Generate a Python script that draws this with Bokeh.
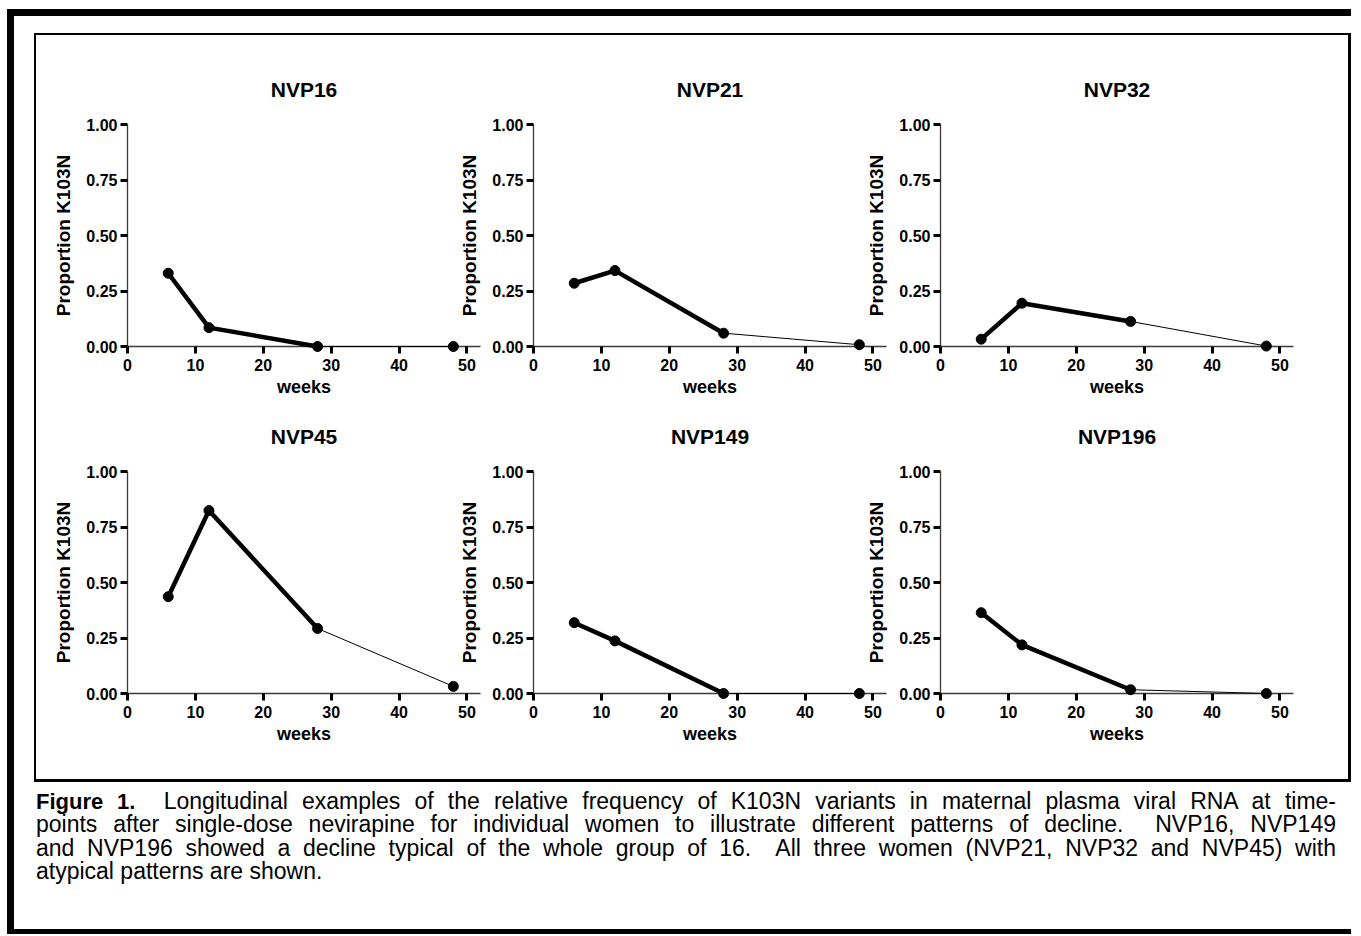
from bokeh.plotting import figure
from bokeh.models import Range1d, FixedTicker, NumeralTickFormatter, Div, Spacer, Column, Row
from bokeh.embed import file_html
from bokeh.resources import INLINE

# ---------------- data ----------------
weeks = [6, 12, 28, 48]
panel_names = ["NVP16", "NVP21", "NVP32", "NVP45", "NVP149", "NVP196"]
nvp16 = [0.330, 0.085, 0.000, 0.000]
nvp21 = [0.285, 0.342, 0.060, 0.008]
nvp32 = [0.033, 0.195, 0.113, 0.002]
nvp45 = [0.436, 0.824, 0.293, 0.032]
nvp149 = [0.319, 0.237, 0.000, 0.000]
nvp196 = [0.364, 0.219, 0.017, 0.000]
panel_values = [nvp16, nvp21, nvp32, nvp45, nvp149, nvp196]
x_ticks = [0, 10, 20, 30, 40, 50]
y_ticks = [0.0, 0.25, 0.5, 0.75, 1.0]
x_label = "weeks"
y_label = "Proportion K103N"
caption_bold = "Figure 1."
caption_lines = [
    "Longitudinal examples of the relative frequency of K103N variants in maternal plasma viral RNA at time-",
    "points after single-dose nevirapine for individual women to illustrate different patterns of decline.&nbsp; NVP16, NVP149",
    "and NVP196 showed a decline typical of the whole group of 16.&nbsp; All three women (NVP21, NVP32 and NVP45) with",
    "atypical patterns are shown.",
]

FONT = "Liberation Sans"


def make_panel(name, vals):
    p = figure(width=440, height=357, x_range=Range1d(0, 52), y_range=Range1d(0, 1),
               output_backend="svg", toolbar_location=None, title=name,
               min_border_left=77, min_border_right=10, min_border_top=76, min_border_bottom=59,
               border_fill_alpha=0, background_fill_alpha=0, outline_line_color=None)
    p.title.align = "center"
    p.title.text_font = FONT
    p.title.text_font_size = "21px"
    p.title.text_font_style = "bold"
    p.title.text_color = "black"
    p.title.standoff = 47
    p.xgrid.visible = False
    p.ygrid.visible = False
    p.xaxis.ticker = FixedTicker(ticks=x_ticks)
    p.yaxis.ticker = FixedTicker(ticks=y_ticks)
    p.yaxis.formatter = NumeralTickFormatter(format="0.00")
    p.xaxis.axis_label = x_label
    p.yaxis.axis_label = y_label
    for ax in (p.xaxis[0], p.yaxis[0]):
        ax.axis_line_color = "#3a3a3a"
        ax.axis_line_width = 1.3
        ax.major_tick_line_color = "black"
        ax.major_tick_line_width = 3
        ax.major_tick_out = 7
        ax.major_tick_in = 0
        ax.minor_tick_line_color = None
        ax.major_label_text_font = FONT
        ax.major_label_text_font_style = "bold"
        ax.major_label_text_font_size = "16px"
        ax.major_label_text_color = "black"
        ax.axis_label_text_font = FONT
        ax.axis_label_text_font_style = "bold"
        ax.axis_label_text_color = "black"
    p.xaxis.major_label_standoff = 5
    p.yaxis.major_label_standoff = 3
    p.xaxis.axis_label_text_font_size = "18px"
    p.yaxis.axis_label_text_font_size = "19px"
    p.xaxis.axis_label_standoff = 3
    p.yaxis.axis_label_standoff = 9

    p.line(weeks[:3], vals[:3], line_width=4.5, color="black", level="overlay")
    p.line(weeks[2:], vals[2:], line_width=1, color="black", level="overlay")
    p.scatter(weeks, vals, size=10, color="black", level="overlay")
    return p


figs = [make_panel(n, v) for n, v in zip(panel_names, panel_values)]
left_margins = [14, -34, -33]
for i, f in enumerate(figs):
    f.margin = (0, 0, 0, left_margins[i % 3])

row1 = Row(children=figs[:3] + [Spacer(width=45, height=1)])
row2 = Row(children=figs[3:] + [Spacer(width=45, height=1)], margin=(-10, 0, 0, 0))

inner = Column(children=[Spacer(width=1, height=13), row1, row2,
                         Spacer(width=1, height=27)],
               margin=(17, 0, 0, 20),
               styles={"border-style": "solid", "border-color": "black",
                       "border-width": "2px 3px 3px 2px", "background-color": "white"})

line_style = "text-align:justify; text-align-last:justify;"
html_lines = []
for i, t in enumerate(caption_lines):
    if i == 0:
        t = '<b style="font-size:22px;">' + caption_bold + "</b>&nbsp; " + t
    st = line_style if i < len(caption_lines) - 1 else "text-align:left;"
    html_lines.append('<div style="%s">%s</div>' % (st, t))
caption_html = ('<div style="font-family:\'%s\'; font-size:23px; line-height:23.3px; color:black; width:1300px;">%s</div>'
                % (FONT, "".join(html_lines)))
caption = Div(text=caption_html, width=1300, height=139, margin=(8, 0, 0, 22))

root = Column(children=[inner, caption], margin=(9, 0, 0, 7),
              styles={"border-left": "7px solid black", "border-top": "7px solid black",
                      "border-bottom": "5px solid black"})

open("out.html", "w").write(file_html(root, INLINE))
